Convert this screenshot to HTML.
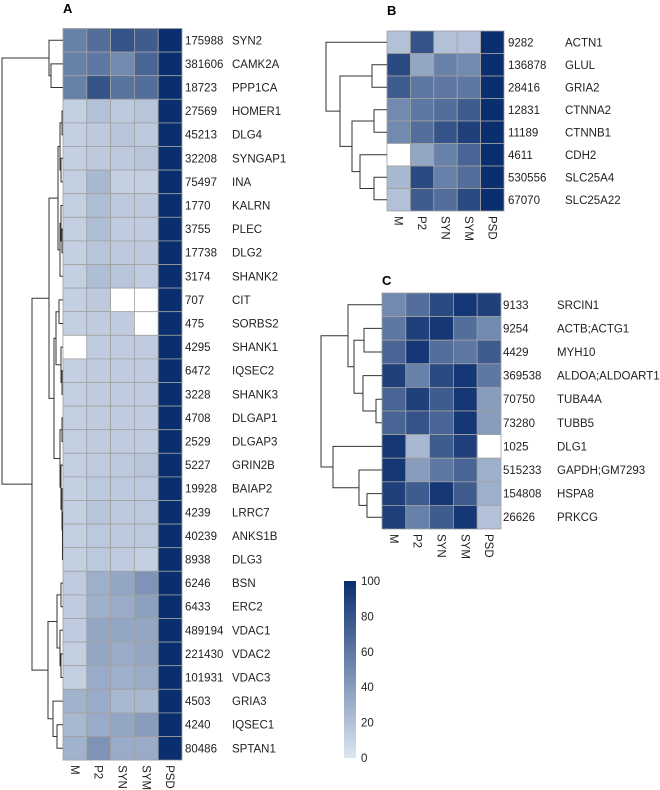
<!DOCTYPE html>
<html><head><meta charset="utf-8">
<style>
html,body{margin:0;padding:0;background:#fff;}
svg{display:block;font-family:"Liberation Sans",Arial,sans-serif;}
</style></head>
<body>
<svg id="fig" width="660" height="790" viewBox="0 0 660 790">
<defs>
<linearGradient id="cbg" x1="0" y1="1" x2="0" y2="0">
<stop offset="0" stop-color="rgb(220,230,242)"/>
<stop offset="1" stop-color="rgb(10,46,110)"/>
</linearGradient>
</defs>
<text x="63" y="13" font-size="13" font-weight="bold">A</text>
<text x="387" y="15" font-size="13" font-weight="bold">B</text>
<text x="382" y="285" font-size="13" font-weight="bold">C</text>
<g>
<rect x="344" y="581" width="12" height="177" fill="url(#cbg)"/>
</g>
</svg>
<script>
const columns = ["M","P2","SYN","SYM","PSD"];
const idsA = ["175988","381606","18723","27569","45213","32208","75497","1770","3755","17738","3174","707","475","4295","6472","3228","4708","2529","5227","19928","4239","40239","8938","6246","6433","489194","221430","101931","4503","4240","80486"];
const genesA = ["SYN2","CAMK2A","PPP1CA","HOMER1","DLG4","SYNGAP1","INA","KALRN","PLEC","DLG2","SHANK2","CIT","SORBS2","SHANK1","IQSEC2","SHANK3","DLGAP1","DLGAP3","GRIN2B","BAIAP2","LRRC7","ANKS1B","DLG3","BSN","ERC2","VDAC1","VDAC2","VDAC3","GRIA3","IQSEC1","SPTAN1"];
const valuesA = [
[55,65,80,75,100],[55,60,50,70,100],[55,80,62,65,100],
[12,20,15,18,100],[12,15,18,15,100],[12,15,15,18,100],[12,25,12,12,100],
[12,22,15,15,100],[12,22,14,14,100],[12,18,15,15,100],[12,22,18,14,100],
[12,15,null,null,100],[12,14,14,null,100],[null,14,14,14,100],[12,14,14,14,100],
[12,14,14,14,100],[12,14,14,14,100],[12,14,14,14,100],[12,14,15,18,100],
[12,16,16,16,100],[12,18,15,16,100],[12,16,15,16,100],[12,16,14,12,100],
[14,30,35,45,100],[14,30,32,38,100],[14,35,35,35,100],[12,35,32,35,100],
[12,32,30,32,100],[28,32,25,25,100],[25,32,35,40,100],[28,45,32,32,100]];
const idsB = ["9282","136878","28416","12831","11189","4611","530556","67070"];
const genesB = ["ACTN1","GLUL","GRIA2","CTNNA2","CTNNB1","CDH2","SLC25A4","SLC25A22"];
const valuesB = [
[20,80,20,20,100],[85,35,55,50,100],[75,60,60,60,100],[50,60,65,75,100],
[50,65,80,90,100],[null,35,55,70,100],[25,85,55,65,100],[20,75,65,85,100]];
const idsC = ["9133","9254","4429","369538","70750","73280","1025","515233","154808","26626"];
const genesC = ["SRCIN1","ACTB;ACTG1","MYH10","ALDOA;ALDOART1","TUBA4A","TUBB5","DLG1","GAPDH;GM7293","HSPA8","PRKCG"];
const valuesC = [
[50,65,85,95,90],[60,90,95,65,50],[70,95,65,60,75],[90,55,85,95,60],
[70,90,75,95,40],[70,80,70,95,40],[95,25,75,90,null],[95,40,60,70,30],
[90,75,95,75,30],[90,55,75,95,20]];
// dendrogram trees: [left, right, height]
const treeA = [[0,[1,2,12],14],[[[[[3,4,1],[5,6,2],3],[[7,[8,9,1],2],10,3],5],[[[11,12,4],[13,[14,15,1],2],7],[[16,17,1],[18,[19,[20,[21,22,0.5],0.5],1],2],3],9],14],[[[23,24,2],[25,[26,27,2],3],6],[28,[29,30,6],10],15],31],61];
const treeB = [0,[[1,2,15],[[3,4,13],[5,[6,7,13],27],35],47],61];
const treeC = [[0,[[1,2,18],[3,[4,5,6],19],28],34],[6,[7,[8,9,15],23],49],61];
const cbTicks = [0,20,40,60,80,100];

const NS = "http://www.w3.org/2000/svg";
const svg = document.getElementById("fig");
function mk(tag, attrs, parent){const e=document.createElementNS(NS,tag);for(const k in attrs)e.setAttribute(k,attrs[k]);(parent||svg).appendChild(e);return e;}
function color(v){
  if(v===null) return "#ffffff";
  const t=Math.max(0,Math.min(1,v/100));
  const a=[220,230,242], b=[10,46,110];
  return "rgb("+a.map((c,i)=>Math.round(c+(b[i]-c)*t)).join(",")+")";
}
function panel(key, L, T, cw, rh, ids, genes, vals, tree, idX, geneX){
  const g = mk("g",{});
  
  
  const xs = c => L + c*cw;
  const ys = r => T + r*rh;
  vals.forEach((row,r)=>{
    row.forEach((v,c)=>{
      const rc = mk("rect",{x:xs(c),y:ys(r),width:cw,height:rh,fill:color(v),stroke:"#a0a0a0","stroke-width":0.8},g);
      
      
    });
    const t1 = mk("text",{x:idX,y:ys(r)+rh/2+4,"font-size":11.5,fill:"#222"},g);
    t1.textContent = ids[r];
    
    
    const t2 = mk("text",{x:geneX,y:ys(r)+rh/2+4,"font-size":11.5,fill:"#222"},g);
    t2.textContent = genes[r];
    
    
  });
  const bottom = ys(vals.length);
  columns.forEach((c,i)=>{
    const cx = xs(i)+cw/2-4, cy = bottom+5;
    const t = mk("text",{x:cx,y:cy,"font-size":11.5,fill:"#222",transform:"rotate(90 "+cx+" "+cy+")"},g);
    t.textContent = c;
    
    
  });
  const dg = mk("g",{stroke:"#333","stroke-width":1,fill:"none"},g);
  
  
  const hx = h => L - h;
  function walk(n){
    if(typeof n==="number") return {y:ys(n)+rh/2,h:0};
    const a=walk(n[0]), b=walk(n[1]), h=n[2], x=hx(h);
    const p = mk("path",{d:"M"+hx(a.h)+","+a.y+"H"+x+"V"+b.y+"H"+hx(b.h)},dg);
    
    
    return {y:(a.y+b.y)/2,h:h};
  }
  walk(tree);
}
panel("a",63,28.5,23.8,23.6,idsA,genesA,valuesA,treeA,185,232);
panel("b",387,31,23.4,22.5,idsB,genesB,valuesB,treeB,508,565);
panel("c",382,293,23.8,23.6,idsC,genesC,valuesC,treeC,503,557);
const cbTop=581, cbH=177;
cbTicks.forEach(v=>{
  const t = mk("text",{x:361,y:cbTop+cbH-(v/100)*cbH+4,"font-size":11.5,fill:"#222"});
  t.textContent = v;
  
  
});
</script>
</body></html>
